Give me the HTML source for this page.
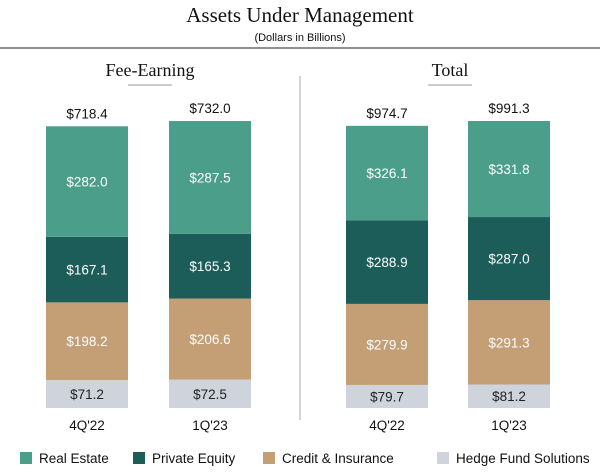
<!DOCTYPE html>
<html><head><meta charset="utf-8"><style>
body{margin:0;background:#fff;width:600px;height:471px;overflow:hidden;font-family:"Liberation Sans",sans-serif}
</style></head><body>
<svg id="c" width="600" height="471" font-family="Liberation Sans, sans-serif">
<text x="300" y="22" text-anchor="middle" font-family="Liberation Serif,serif" font-size="21" fill="#111">Assets Under Management</text>
<text x="300" y="41" text-anchor="middle" font-size="11" fill="#111">(Dollars in Billions)</text>
<line x1="0" y1="48" x2="600" y2="48" stroke="#222" stroke-width="1"/>
<line x1="300" y1="76" x2="300" y2="420" stroke="#aaa" stroke-width="1"/>
<text x="150" y="76" text-anchor="middle" font-family="Liberation Serif,serif" font-size="18" fill="#111">Fee-Earning</text>
<line x1="128" y1="85" x2="172" y2="85" stroke="#999"/>
<text x="450" y="76" text-anchor="middle" font-family="Liberation Serif,serif" font-size="18" fill="#111">Total</text>
<line x1="428" y1="85" x2="472" y2="85" stroke="#999"/>
<g id="bars"></g>
<g id="legend"></g>
</svg>
<script>
const periods=["4Q'22","1Q'23"];
const series=["Real Estate","Private Equity","Credit & Insurance","Hedge Fund Solutions"];
const colors=["#4a9e8a","#1c5c59","#c49e75","#cfd3dc"];
const feeHedge=[71.2,72.5];
const feeCredit=[198.2,206.6];
const feePE=[167.1,165.3];
const feeRE=[282.0,287.5];
const feeTotals=[718.4,732.0];
const totHedge=[79.7,81.2];
const totCredit=[279.9,291.3];
const totPE=[288.9,287.0];
const totRE=[326.1,331.8];
const totTotals=[974.7,991.3];
const NS="http://www.w3.org/2000/svg";
const g=document.getElementById('bars');
const base=408,H=287,bw=82;
function mk(t,a){const e=document.createElementNS(NS,t);for(const k in a)e.setAttribute(k,a[k]);return e;}
function panel(xs,segs,totals,name){
  const mx=Math.max(...totals);const k=H/mx;
  xs.forEach((x,i)=>{
    let y=base;
    segs.forEach((arr,s)=>{
      const h=arr[i]*k;y-=h;
      const r=mk('rect',{x:x,y:y,width:bw,height:h,fill:colors[3-s]});
      
      
      g.appendChild(r);
      const t=mk('text',{x:x+bw/2,y:y+h/2+5,'text-anchor':'middle','font-size':13.5,fill:s==0?'#222':'#fff'});
      t.textContent='$'+arr[i].toFixed(1);
      
      
      g.appendChild(t);
    });
    const tt=mk('text',{x:x+bw/2,y:y-8,'text-anchor':'middle','font-size':13.5,fill:'#111'});
    tt.textContent='$'+totals[i].toFixed(1);
    
    
    g.appendChild(tt);
    const xl=mk('text',{x:x+bw/2,y:430,'text-anchor':'middle','font-size':13.5,fill:'#111'});
    xl.textContent=periods[i];
    
    
    g.appendChild(xl);
  });
}
panel([46,169],[feeHedge,feeCredit,feePE,feeRE],feeTotals,'fee-earning');
panel([346,468],[totHedge,totCredit,totPE,totRE],totTotals,'total');
const lg=document.getElementById('legend');
const lx=[20,133,263,437];
series.forEach((s,i)=>{
  const r=mk('rect',{x:lx[i],y:452,width:12,height:12,fill:colors[i]});
  
  
  lg.appendChild(r);
  const t=mk('text',{x:lx[i]+19,y:463,'font-size':13.5,fill:'#111'});
  t.textContent=s;
  
  
  lg.appendChild(t);
});
</script>
</body></html>
